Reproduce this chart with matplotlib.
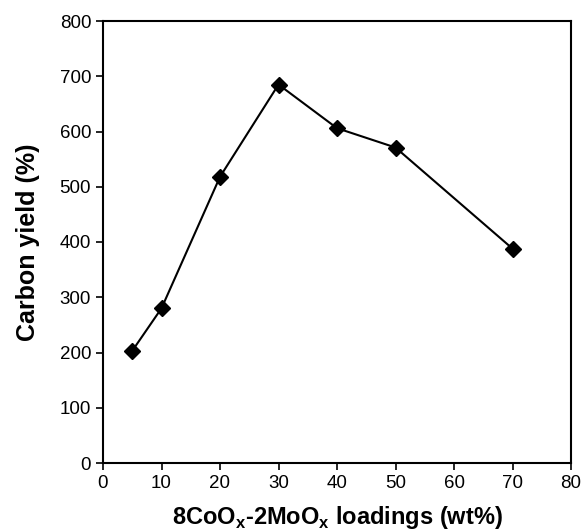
import matplotlib
matplotlib.use("Agg")
import matplotlib.pyplot as plt

plt.rcParams['font.family'] = ['Liberation Sans', 'DejaVu Sans']

loadings = [5, 10, 20, 30, 40, 50, 70]
carbon_yield = [203, 280, 518, 685, 606, 571, 388]
x_ticks = [0, 10, 20, 30, 40, 50, 60, 70, 80]
y_ticks = [0, 100, 200, 300, 400, 500, 600, 700, 800]

fig = plt.figure(figsize=(5.84, 5.30), dpi=100)
ax = fig.add_axes([103/584, 1 - 463/530, (571-103)/584, (463-21)/530])
ax.plot(loadings, carbon_yield, color='black', lw=1.5, marker='D', ms=8.5,
        markerfacecolor='black', markeredgecolor='black')
ax.set_xlim(0, 80)
ax.set_ylim(0, 800)
ax.set_xticks(x_ticks)
ax.set_yticks(y_ticks)
ax.tick_params(direction='out', length=5, width=1.2, labelsize=13.5, colors='black')
for s in ax.spines.values():
    s.set_linewidth(1.5)
ax.set_xlabel(r'8CoO$_\mathregular{x}$-2MoO$_\mathregular{x}$ loadings (wt%)', fontsize=17, fontweight='bold', labelpad=9)
ax.set_ylabel('Carbon yield (%)', fontsize=18, fontweight='bold', labelpad=14)
fig.savefig('out.png', dpi=100)
